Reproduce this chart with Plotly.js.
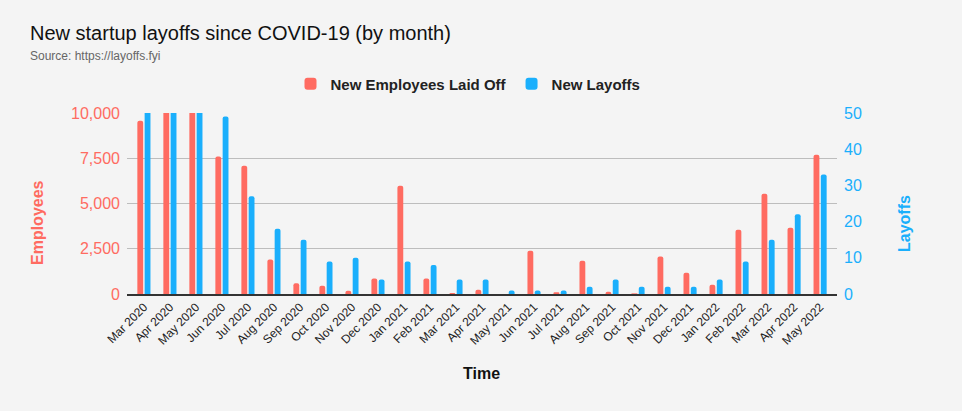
<!DOCTYPE html>
<html>
<head>
<meta charset="utf-8">
<script src="https://cdn.plot.ly/plotly-3.0.1.min.js"></script>
<style>html,body{margin:0;padding:0;background:#f4f4f4;}#chart{width:962px;height:411px;}</style>
</head>
<body>
<div id="chart"></div>
<script>
const months = ["Mar 2020","Apr 2020","May 2020","Jun 2020","Jul 2020","Aug 2020","Sep 2020","Oct 2020","Nov 2020","Dec 2020",
  "Jan 2021","Feb 2021","Mar 2021","Apr 2021","May 2021","Jun 2021","Jul 2021","Aug 2021","Sep 2021","Oct 2021",
  "Nov 2021","Dec 2021","Jan 2022","Feb 2022","Mar 2022","Apr 2022","May 2022"];
const employeesLaidOff = [9575, 26000, 21000, 7590, 7090, 1900, 590, 460, 185, 850,
  5985, 850, 55, 240, 0, 2395, 90, 1840, 130, 35,
  2065, 1180, 515, 3555, 5545, 3665, 7700];
const newLayoffs = [60, 180, 130, 49, 27, 18, 15, 9, 10, 4,
  9, 8, 4, 4, 1, 1, 1, 2, 4, 2,
  2, 2, 4, 9, 15, 22, 33];

const RED = '#ff6b61', BLUE = '#1aaffc';
const FONT = 'Liberation Sans, Arial, sans-serif';

const traces = [
  {type:'bar', name:'New Employees Laid Off', x:months, y:employeesLaidOff, yaxis:'y', offsetgroup:'1',
   marker:{color:RED, cornerradius:2}, hoverinfo:'x+y'},
  {type:'bar', name:'New Layoffs', x:months, y:newLayoffs, yaxis:'y2', offsetgroup:'2',
   marker:{color:BLUE, cornerradius:2}, hoverinfo:'x+y'}
];

const layout = {
  width:962, height:411,
  paper_bgcolor:'#f4f4f4', plot_bgcolor:'#f4f4f4',
  margin:{l:127, r:125, t:113, b:117},
  font:{family:FONT, color:'#222'},
  barmode:'group', bargap:0.44, bargroupgap:0.2,
  showlegend:true,
  legend:{orientation:'h', x:(468-127)/710, xanchor:'center', y:(294-84)/181, yanchor:'middle', itemwidth:30,
    font:{size:15, color:'#222', family:FONT, weight:'bold'}, bgcolor:'rgba(0,0,0,0)', traceorder:'normal'},
  title:{text:'New startup layoffs since COVID-19 (by month)', x:30/962, xref:'container', xanchor:'left',
    y:1-33/411, yref:'container', yanchor:'middle',
    font:{size:20, color:'#111', family:FONT}},
  xaxis:{type:'category', range:[-0.65, 26.65], tickangle:-45, tickfont:{size:12, color:'#222'},
    showgrid:false, showline:true, linecolor:'#333', linewidth:1.5, ticks:'', zeroline:false, fixedrange:true},
  yaxis:{range:[0,10000], tickvals:[0,2500,5000,7500,10000], ticktext:['0','2,500','5,000','7,500','10,000'],
    tickfont:{size:16, color:RED}, gridcolor:'#bdbdbd', gridwidth:1, zeroline:false, showline:false,
    ticks:'', ticklabelstandoff:6, fixedrange:true},
  yaxis2:{range:[0,50], tickvals:[0,10,20,30,40,50], overlaying:'y', side:'right',
    tickfont:{size:16, color:BLUE}, showgrid:false, zeroline:false, showline:false,
    ticks:'', ticklabelstandoff:6, fixedrange:true},
  annotations:[
    {text:'Source: https://layoffs.fyi', xref:'paper', yref:'paper', x:-99/710, y:(294-56)/181, xanchor:'left', yanchor:'middle',
     showarrow:false, font:{size:12, color:'#666'}},
    {text:'<b>Employees</b>', xref:'paper', yref:'paper', x:(37-127)/710, y:(294-223)/181, xanchor:'center', yanchor:'middle',
     textangle:-90, showarrow:false, font:{size:16, color:RED}},
    {text:'<b>Layoffs</b>', xref:'paper', yref:'paper', x:(904-127)/710, y:(294-224)/181, xanchor:'center', yanchor:'middle',
     textangle:-90, showarrow:false, font:{size:16, color:BLUE}},
    {text:'<b>Time</b>', xref:'paper', yref:'paper', x:(481-127)/710, y:(294-373)/181, xanchor:'center', yanchor:'middle',
     showarrow:false, font:{size:16, color:'#111'}}
  ]
};

Plotly.newPlot('chart', traces, layout, {displayModeBar:false, staticPlot:true});
</script>
</body>
</html>
